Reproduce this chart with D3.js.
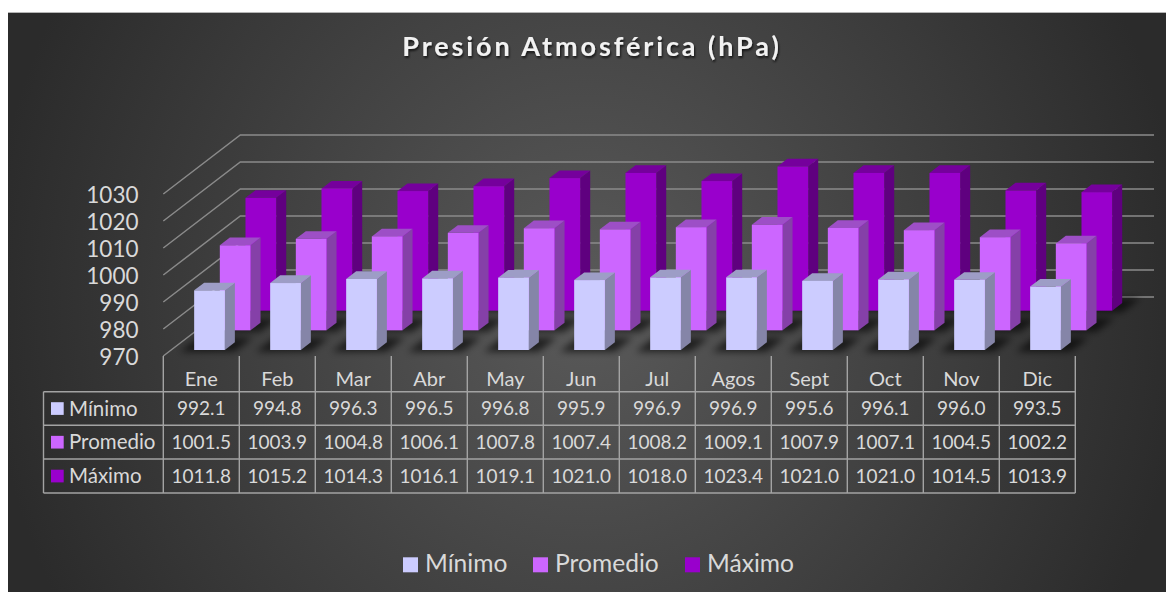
<!DOCTYPE html>
<html lang="es">
<head>
<meta charset="utf-8">
<script src="https://cdn.jsdelivr.net/npm/d3@7/dist/d3.min.js"></script>
<style>
html,body{margin:0;padding:0;background:#fff;overflow:hidden}
svg{display:block;font-family:Lato,"Open Sans",sans-serif}
</style>
</head>
<body>
<svg id="chart" width="1166" height="592"></svg>
<script>
const title = "Presión Atmosférica (hPa)";
const months = ["Ene","Feb","Mar","Abr","May","Jun","Jul","Agos","Sept","Oct","Nov","Dic"];
const seriesNames = ["Mínimo","Promedio","Máximo"];
const minimo = [992.1,994.8,996.3,996.5,996.8,995.9,996.9,996.9,995.6,996.1,996.0,993.5];
const promedio = [1001.5,1003.9,1004.8,1006.1,1007.8,1007.4,1008.2,1009.1,1007.9,1007.1,1004.5,1002.2];
const maximo = [1011.8,1015.2,1014.3,1016.1,1019.1,1021.0,1018.0,1023.4,1021.0,1021.0,1014.5,1013.9];
const yTicks = [970,980,990,1000,1010,1020,1030];
const frontColors = ["#ccccff","#cc66ff","#9900cc"];
const topColors = ["#9d9dc6","#9d4fc6","#75009c"];
const sideColors = ["#8585a8","#8540a8","#5f007f"];

const seriesValues = [minimo,promedio,maximo];
const svg = d3.select("#chart");
const defs = svg.append("defs");

const grad = defs.append("radialGradient").attr("id","bg").attr("gradientUnits","userSpaceOnUse")
  .attr("cx",0).attr("cy",0).attr("r",1)
  .attr("gradientTransform","translate(587,302) scale(600,640)");
grad.append("stop").attr("offset",0).attr("stop-color","#5a5a5a");
grad.append("stop").attr("offset",1).attr("stop-color","#2b2b2b");
defs.append("filter").attr("id","blur").attr("x","-30%").attr("y","-60%").attr("width","160%").attr("height","220%")
  .append("feGaussianBlur").attr("stdDeviation",3.8);
const ts = defs.append("filter").attr("id","titleShadow").attr("x","-5%").attr("y","-30%").attr("width","110%").attr("height","160%");
ts.append("feDropShadow").attr("dx",1).attr("dy",2).attr("stdDeviation",1.3).attr("flood-color","#000").attr("flood-opacity",0.7);

svg.append("rect").attr("x",8).attr("y",12).attr("width",1158).attr("height",580).attr("fill","url(#bg)");
svg.append("line").attr("x1",0).attr("x2",1166).attr("y1",12.5).attr("y2",12.5).attr("stroke","#b5b5b5").attr("stroke-width",1);
svg.append("rect").attr("x",0).attr("y",0).attr("width",8).attr("height",592).attr("fill","#fff");

// Scales for the oblique projection
const x = d3.scaleBand().domain(months).range([163.3,1075.3]);
const y = d3.scaleLinear().domain([970,1030]).range([356,194]);
const depth = d3.scaleBand().domain(seriesNames).range([0,1]);
const depthDX = 77, depthDY = -59, backRight = 1154;
const gridColor = "#8a8a8a";
const px = (c,d) => c + d*depthDX;
const py = (v,d) => y(v) + d*depthDY;

// Gridlines (side wall + back wall)
svg.append("g").selectAll("path").data(yTicks).join("path")
  .attr("fill","none").attr("stroke",gridColor).attr("stroke-width",1.5)
  .attr("d",t => d3.line()([[px(x.range()[0],0),py(t,0)],[px(x.range()[0],1),py(t,1)],[backRight,py(t,1)]]));

// Value axis labels
const axis = d3.axisLeft(y).tickValues(yTicks).tickSize(0).tickPadding(0).tickFormat(d3.format("d"));
const ax = svg.append("g").attr("transform","translate(138.5,0)").call(axis);
ax.select(".domain").remove();
ax.selectAll("text").style("fill","#d9d9d9").style("font-size","22.5px").style("font-family","Lato").attr("dy","0.36em");

const barW = x.bandwidth()*0.404, barOff = x.bandwidth()*0.303;
const dIn = depth.bandwidth()*0.305, dLen = depth.bandwidth()*0.39;
const poly = pts => "M" + pts.map(p => p.join(",")).join("L") + "Z";

// Floor shadows
const shadow = svg.append("g").attr("filter","url(#blur)");
seriesNames.forEach((s,si) => {
  const d0 = depth(s)+dIn;
  shadow.selectAll(null).data(months).join("path")
    .attr("fill","#000").attr("fill-opacity",0.62)
    .attr("d",m => {
      const c0 = x(m)+barOff-12, c1 = x(m)+barOff+barW+12;
      const a = d0-0.03, b = d0+dLen+0.08;
      const base = yTicks[0];
      return poly([[px(c0,a),py(base,a)],[px(c1,a),py(base,a)],[px(c1,b),py(base,b)],[px(c0,b),py(base,b)]]);
    });
});

// Bars, back row first
d3.range(seriesNames.length-1,-1,-1).forEach(si => {
  const s = seriesNames[si];
  const d0 = depth(s)+dIn, d1 = d0+dLen;
  const g = svg.append("g");
  const data = months.map((m,i) => ({m,v:seriesValues[si][i]}));
  const base = yTicks[0];
  const bars = g.selectAll("g").data(data).join("g");
  bars.append("path").attr("fill",sideColors[si]).attr("d",d => {
    const c = x(d.m)+barOff+barW;
    return poly([[px(c,d0),py(base,d0)],[px(c,d1),py(base,d1)],[px(c,d1),py(d.v,d1)],[px(c,d0),py(d.v,d0)]]);
  });
  bars.append("path").attr("fill",topColors[si]).attr("d",d => {
    const c0 = x(d.m)+barOff, c1 = c0+barW;
    return poly([[px(c0,d0),py(d.v,d0)],[px(c1,d0),py(d.v,d0)],[px(c1,d1),py(d.v,d1)],[px(c0,d1),py(d.v,d1)]]);
  });
  bars.append("rect").attr("fill",frontColors[si])
    .attr("x",d => px(x(d.m)+barOff,d0)).attr("width",barW)
    .attr("y",d => py(d.v,d0)).attr("height",d => py(base,d0)-py(d.v,d0));
});

// Data table
const rowLines = [391.7,425.3,459,493];
const tableLeft = 43.5, tableTop = y(yTicks[0]);
const lineColor = "#a3a3a3";
const table = svg.append("g");
const [xL,xR] = x.range();
const colEdges = months.map(m => x(m)).concat([xR]);
table.selectAll(".v").data(colEdges).join("line").attr("class","v")
  .attr("x1",d=>d).attr("x2",d=>d).attr("y1",tableTop).attr("y2",rowLines[3])
  .attr("stroke",lineColor).attr("stroke-width",1.4);
table.selectAll(".h").data(rowLines).join("line").attr("class","h")
  .attr("x1",tableLeft).attr("x2",xR).attr("y1",d=>d).attr("y2",d=>d)
  .attr("stroke",lineColor).attr("stroke-width",1.4);
table.append("line").attr("x1",tableLeft).attr("x2",tableLeft).attr("y1",rowLines[0]).attr("y2",rowLines[3])
  .attr("stroke",lineColor).attr("stroke-width",1.4);
table.selectAll(".cat").data(months).join("text").attr("class","cat")
  .attr("x",m=>x(m)+x.bandwidth()/2).attr("y",386).attr("text-anchor","middle")
  .attr("fill","#d9d9d9").attr("font-size",20).text(m=>m);
seriesNames.forEach((s,si) => {
  const top = rowLines[si], bot = rowLines[si+1], mid = (top+bot)/2;
  table.append("rect").attr("x",51).attr("y",mid-6.3).attr("width",12.7).attr("height",12.7).attr("fill",frontColors[si]);
  table.append("text").attr("x",69).attr("y",mid+7).attr("fill","#d9d9d9").attr("font-size",20.5).text(s);
  table.selectAll(null).data(months).join("text")
    .attr("x",m=>x(m)+x.bandwidth()/2).attr("y",mid+6.6).attr("text-anchor","middle")
    .attr("fill","#d9d9d9").attr("font-size",19)
    .text((m,i)=>d3.format(".1f")(seriesValues[si][i]));
});

// Title
svg.append("text").attr("x",592).attr("y",56).attr("text-anchor","middle")
  .attr("fill","#f2f2f2").attr("font-size",27).attr("font-weight",700).attr("letter-spacing",2.9)
  .attr("filter","url(#titleShadow)").text(title);

// Legend
const legendSwatchX = [403,533,685];
const legend = svg.append("g").selectAll("g").data(seriesNames).join("g");
legend.append("rect").attr("x",(d,i)=>legendSwatchX[i]).attr("y",557.3).attr("width",15).attr("height",15)
  .attr("fill",(d,i)=>frontColors[i]);
legend.append("text").attr("x",(d,i)=>legendSwatchX[i]+22).attr("y",572).attr("fill","#d9d9d9").attr("font-size",24.6).text(d=>d);
</script>
</body>
</html>
